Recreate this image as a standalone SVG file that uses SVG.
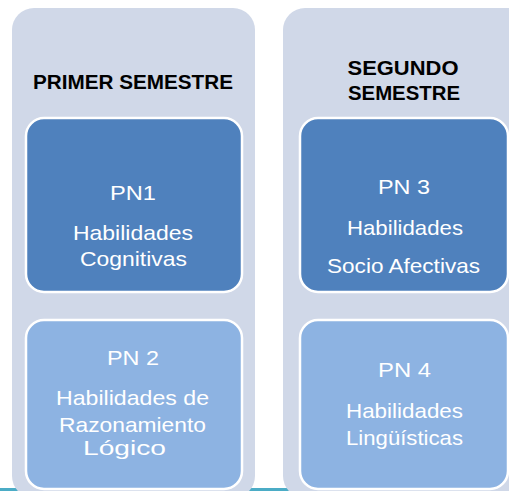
<svg xmlns="http://www.w3.org/2000/svg" width="509" height="491" viewBox="0 0 509 491">
<style>
.panel{fill:#d0d8e8}
.dark{fill:#4f81bd;stroke:#ffffff;stroke-width:2.5}
.light{fill:#8db3e2;stroke:#ffffff;stroke-width:2.5}
.hd{font-family:"Liberation Sans",Arial,sans-serif;font-weight:bold;font-size:21px;fill:#000;text-anchor:middle}
.tx{font-family:"Liberation Sans",Arial,sans-serif;font-size:21px;fill:#fff;text-anchor:middle}
</style>
<rect width="509" height="491" fill="#ffffff"/>
<rect x="0" y="488" width="509" height="3" fill="#4bacc6"/>
<g id="panel1">
<rect class="panel" x="12" y="8" width="243" height="490" rx="22"/>
<text class="hd" x="133" y="89" textLength="200" lengthAdjust="spacingAndGlyphs">PRIMER SEMESTRE</text>
</g>
<g id="panel2">
<rect class="panel" x="283" y="8" width="250" height="490" rx="22"/>
<text class="hd" x="403" y="75" textLength="111" lengthAdjust="spacingAndGlyphs">SEGUNDO</text>
<text class="hd" x="404" y="100" textLength="112" lengthAdjust="spacingAndGlyphs">SEMESTRE</text>
</g>
<g id="pn1">
<rect class="dark" x="26" y="118" width="216" height="174" rx="18"/>
<text class="tx" x="133" y="200" textLength="46" lengthAdjust="spacingAndGlyphs">PN1</text>
<text class="tx" x="133" y="240" textLength="120" lengthAdjust="spacingAndGlyphs">Habilidades</text>
<text class="tx" x="133.5" y="266" textLength="107" lengthAdjust="spacingAndGlyphs">Cognitivas</text>
</g>
<g id="pn2">
<rect class="light" x="26" y="320" width="216" height="169" rx="18"/>
<text class="tx" x="133" y="365" textLength="52" lengthAdjust="spacingAndGlyphs">PN 2</text>
<text class="tx" x="132.5" y="405" textLength="153" lengthAdjust="spacingAndGlyphs">Habilidades de</text>
<text class="tx" x="132.5" y="432" textLength="147" lengthAdjust="spacingAndGlyphs">Razonamiento</text>
<text class="tx" x="124.5" y="455" textLength="83" lengthAdjust="spacingAndGlyphs">Lógico</text>
</g>
<g id="pn3">
<rect class="dark" x="300" y="118" width="208" height="174" rx="18"/>
<text class="tx" x="404" y="194" textLength="52" lengthAdjust="spacingAndGlyphs">PN 3</text>
<text class="tx" x="405" y="235" textLength="116" lengthAdjust="spacingAndGlyphs">Habilidades</text>
<text class="tx" x="403.5" y="273" textLength="153" lengthAdjust="spacingAndGlyphs">Socio Afectivas</text>
</g>
<g id="pn4">
<rect class="light" x="300" y="320" width="208" height="169" rx="18"/>
<text class="tx" x="404.5" y="377" textLength="53" lengthAdjust="spacingAndGlyphs">PN 4</text>
<text class="tx" x="404.5" y="418" textLength="117" lengthAdjust="spacingAndGlyphs">Habilidades</text>
<text class="tx" x="404.5" y="445" textLength="117" lengthAdjust="spacingAndGlyphs">Lingüísticas</text>
</g>
<g id="connectors"></g>
</svg>
